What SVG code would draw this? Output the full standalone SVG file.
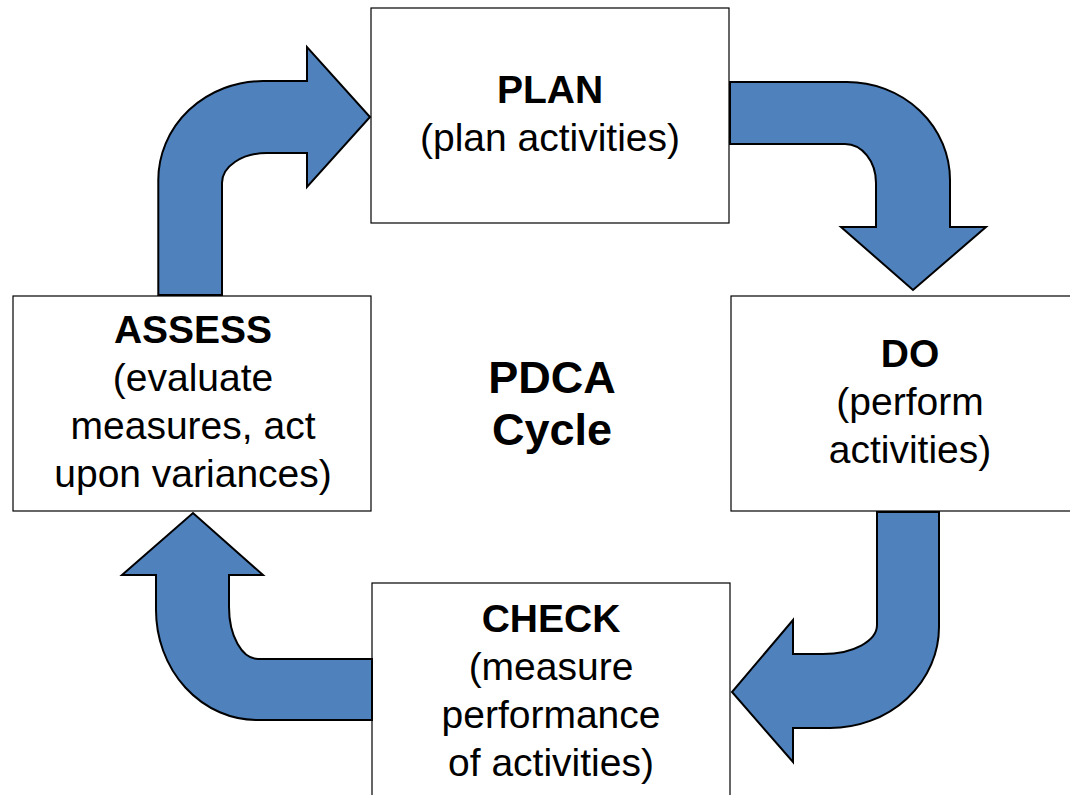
<svg xmlns="http://www.w3.org/2000/svg" width="1070" height="795" viewBox="0 0 1070 795">
<style>
.box{fill:#ffffff;stroke:#000000;stroke-width:1.2}
.arrow{fill:#4F81BD;stroke:#000000;stroke-width:2;stroke-linejoin:miter}
text{font-family:"Liberation Sans",Arial,sans-serif;fill:#000000;text-anchor:middle}
.t{font-weight:bold;font-size:39px}
.s{font-size:39px}
.c{font-weight:bold;font-size:45px}
</style>
<rect width="1070" height="795" fill="#ffffff"/>
<g id="plan">
<rect class="box" x="371" y="8" width="358" height="215"/>
<text class="t" x="550" y="103">PLAN</text>
<text class="s" x="550" y="151">(plan activities)</text>
</g>
<g id="assess">
<rect class="box" x="13" y="296" width="358" height="215"/>
<text class="t" x="193" y="343">ASSESS</text>
<text class="s" x="193" y="391">(evaluate</text>
<text class="s" x="193" y="439">measures, act</text>
<text class="s" x="193" y="487">upon variances)</text>
</g>
<g id="do">
<rect class="box" x="731" y="296" width="358" height="215"/>
<text class="t" x="910" y="367">DO</text>
<text class="s" x="910" y="415">(perform</text>
<text class="s" x="910" y="463">activities)</text>
</g>
<g id="check">
<rect class="box" x="372" y="583" width="358" height="215"/>
<text class="t" x="551" y="632">CHECK</text>
<text class="s" x="551" y="680">(measure</text>
<text class="s" x="551" y="728">performance</text>
<text class="s" x="551" y="776">of activities)</text>
</g>
<g id="center">
<text class="c" x="552" y="393">PDCA</text>
<text class="c" x="552" y="445">Cycle</text>
</g>
<g id="connectors">
<path class="arrow" d="M158.3 295 L158.3 180 A105 99 0 0 1 263 81 L307 81 L307 47 L370 117 L307 187 L307 153 L267 153 A45 30 0 0 0 222 183 L222 295 Z"/>
<path class="arrow" d="M730 82 L847 82 A103 98 0 0 1 950 180 L950 227 L986 227 L913 290 L841 227 L876 227 L876 183 A31 39 0 0 0 845 144 L730 144 Z"/>
<path class="arrow" d="M939 512 L939 627 A109 101 0 0 1 830 728 L793 728 L793 762 L732 692 L793 620 L793 654 L823 654 A54 29 0 0 0 877 625 L877 512 Z"/>
<path class="arrow" d="M372 720 L257 720 A101 110 0 0 1 156 610 L156 575 L122 575 L193 513 L263 575 L229 575 L229 607 A29 52 0 0 0 258 659 L372 659 Z"/>
</g>
</svg>
